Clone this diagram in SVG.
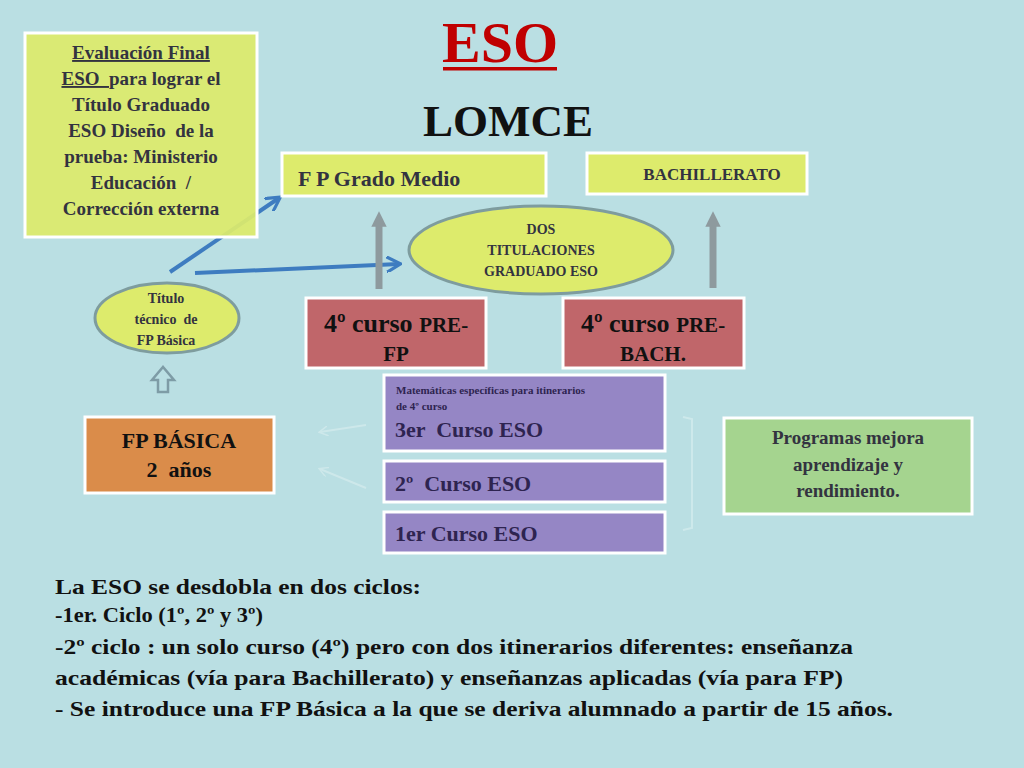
<svg xmlns="http://www.w3.org/2000/svg" width="1024" height="768" viewBox="0 0 1024 768" font-family="Liberation Serif">
<defs>
<style>
.box{stroke:#ffffff;stroke-width:3}
.y{fill:#DDEB6C}
.r{fill:#C0666A}
.p{fill:#9586C5}
.dk{fill:#333340}
.pt{fill:#2E2450}
.bk{fill:#111111}
.blue{stroke:#3E7CC0;stroke-width:4;fill:none}
.grey{stroke:#8E9A9E;stroke-width:7}
.faint{stroke:#D6ECEE;stroke-width:2;fill:none;opacity:0.7}
</style>
<marker id="ab" viewBox="0 0 10 10" refX="8" refY="5" markerWidth="4" markerHeight="4" orient="auto"><path d="M0,0 L9,5 L0,10" fill="none" stroke="#3E7CC0" stroke-width="2"/></marker>
<marker id="ag" viewBox="0 0 10 10" refX="5" refY="5" markerWidth="2.2" markerHeight="2.2" orient="auto"><path d="M0,0 L10,5 L0,10 z" fill="#8E9A9E"/></marker>
<marker id="af" viewBox="0 0 10 10" refX="8" refY="5" markerWidth="5" markerHeight="5" orient="auto"><path d="M0,0 L9,5 L0,10" fill="none" stroke="#D6ECEE" stroke-width="1.5"/></marker>
</defs>
<rect width="1024" height="768" fill="#BADFE3"/>

<g id="connectors">
<line class="blue" x1="170" y1="272" x2="279" y2="198" marker-end="url(#ab)"/>
<line class="blue" x1="195" y1="273" x2="399" y2="264" marker-end="url(#ab)"/>
<line class="grey" x1="379" y1="289" x2="379" y2="219" marker-end="url(#ag)"/>
<line class="grey" x1="713" y1="288" x2="713" y2="219" marker-end="url(#ag)"/>
<path d="M158,392 L158,380 L152,380 L163,367 L174,380 L168,380 L168,392 Z" fill="none" stroke="#7E9CA6" stroke-width="2.5"/>
<line class="faint" x1="366" y1="425" x2="320" y2="432" marker-end="url(#af)"/>
<line class="faint" x1="366" y1="488" x2="320" y2="469" marker-end="url(#af)"/>
<path class="faint" d="M683,417 L692,419 L692,528 L683,530"/>
</g>

<g id="title">
<text font-family="Liberation Serif" font-weight="bold" x="500" y="62" font-size="58" fill="#C00000" text-anchor="middle">ESO</text>
<rect x="443" y="67" width="114" height="3.5" fill="#C00000"/>
<text font-family="Liberation Serif" font-weight="bold" class="bk" x="508" y="136" font-size="45" text-anchor="middle">LOMCE</text>
</g>

<g id="evaluacion">
<rect class="box y" x="25" y="33" width="232" height="204" fill-opacity="0.93"/>
<text font-family="Liberation Serif" font-weight="bold" class="dk" font-size="19" text-anchor="middle" x="141" y="59" text-decoration="underline">Evaluación Final</text>
<text font-family="Liberation Serif" font-weight="bold" class="dk" font-size="19" text-anchor="middle" x="141" y="85"><tspan text-decoration="underline" xml:space="preserve">ESO  </tspan>para lograr el</text>
<text font-family="Liberation Serif" font-weight="bold" class="dk" font-size="19" text-anchor="middle" x="141" y="111">Título Graduado</text>
<text font-family="Liberation Serif" font-weight="bold" class="dk" font-size="19" text-anchor="middle" x="141" y="137" xml:space="preserve">ESO Diseño  de la</text>
<text font-family="Liberation Serif" font-weight="bold" class="dk" font-size="19" text-anchor="middle" x="141" y="163">prueba: Ministerio</text>
<text font-family="Liberation Serif" font-weight="bold" class="dk" font-size="19" text-anchor="middle" x="141" y="189" xml:space="preserve">Educación  /</text>
<text font-family="Liberation Serif" font-weight="bold" class="dk" font-size="19" text-anchor="middle" x="141" y="215">Corrección externa</text>
</g>

<g id="fpgradomedio">
<rect class="box y" x="282" y="153" width="264" height="43"/>
<text font-family="Liberation Serif" font-weight="bold" class="dk" x="298" y="186" font-size="22">F P Grado Medio</text>
</g>

<g id="bachillerato">
<rect class="box y" x="587" y="153" width="220" height="41"/>
<text font-family="Liberation Serif" font-weight="bold" class="dk" x="712" y="180" font-size="17" text-anchor="middle">BACHILLERATO</text>
</g>

<g id="dostitulaciones">
<ellipse cx="541" cy="250" rx="132" ry="44" fill="#DDEB6C" stroke="#7E9C9E" stroke-width="3"/>
<text font-family="Liberation Serif" font-weight="bold" class="dk" font-size="14" text-anchor="middle" x="541" y="234">DOS</text>
<text font-family="Liberation Serif" font-weight="bold" class="dk" font-size="14" text-anchor="middle" x="541" y="255">TITULACIONES</text>
<text font-family="Liberation Serif" font-weight="bold" class="dk" font-size="14" text-anchor="middle" x="541" y="276">GRADUADO ESO</text>
</g>

<g id="titulotecnico">
<ellipse cx="167" cy="318" rx="72" ry="35" fill="#DDEB6C" stroke="#7E9C9E" stroke-width="3"/>
<text font-family="Liberation Serif" font-weight="bold" class="dk" font-size="14" text-anchor="middle" x="166" y="303">Título</text>
<text font-family="Liberation Serif" font-weight="bold" class="dk" font-size="14" text-anchor="middle" x="166" y="324" xml:space="preserve">técnico  de</text>
<text font-family="Liberation Serif" font-weight="bold" class="dk" font-size="14" text-anchor="middle" x="166" y="345">FP Básica</text>
</g>

<g id="prefp">
<rect class="box r" x="306" y="298" width="180" height="70"/>
<text font-family="Liberation Serif" font-weight="bold" class="bk" x="396" y="332" font-size="26" text-anchor="middle">4º curso <tspan font-size="21">PRE-</tspan></text>
<text font-family="Liberation Serif" font-weight="bold" class="bk" x="396" y="361" font-size="21" text-anchor="middle">FP</text>
</g>

<g id="prebach">
<rect class="box r" x="563" y="298" width="181" height="70"/>
<text font-family="Liberation Serif" font-weight="bold" class="bk" x="653" y="332" font-size="26" text-anchor="middle">4º curso <tspan font-size="21">PRE-</tspan></text>
<text font-family="Liberation Serif" font-weight="bold" class="bk" x="653" y="361" font-size="21" text-anchor="middle">BACH.</text>
</g>

<g id="fpbasica">
<rect class="box" x="85" y="417" width="189" height="76" fill="#DA8C4A"/>
<text font-family="Liberation Serif" font-weight="bold" class="bk" x="179" y="448" font-size="22" text-anchor="middle">FP BÁSICA</text>
<text font-family="Liberation Serif" font-weight="bold" class="bk" x="179" y="477" font-size="22" text-anchor="middle" xml:space="preserve">2  años</text>
</g>

<g id="tercero">
<rect class="box p" x="384" y="375" width="281" height="76"/>
<text font-family="Liberation Serif" font-weight="bold" class="pt" x="396" y="394" font-size="11">Matemáticas específicas para itinerarios</text>
<text font-family="Liberation Serif" font-weight="bold" class="pt" x="396" y="410" font-size="11">de 4º curso</text>
<text font-family="Liberation Serif" font-weight="bold" class="pt" x="395" y="437" font-size="22" xml:space="preserve">3er  Curso ESO</text>
</g>

<g id="segundo">
<rect class="box p" x="384" y="461" width="281" height="41"/>
<text font-family="Liberation Serif" font-weight="bold" class="pt" x="395" y="491" font-size="22" xml:space="preserve">2º  Curso ESO</text>
</g>

<g id="primero">
<rect class="box p" x="384" y="512" width="281" height="41"/>
<text font-family="Liberation Serif" font-weight="bold" class="pt" x="395" y="541" font-size="22">1er Curso ESO</text>
</g>

<g id="programas">
<rect class="box" x="724" y="418" width="248" height="96" fill="#A5D48F"/>
<text font-family="Liberation Serif" font-weight="bold" class="dk" font-size="19" text-anchor="middle" x="848" y="444">Programas mejora</text>
<text font-family="Liberation Serif" font-weight="bold" class="dk" font-size="19" text-anchor="middle" x="848" y="471">aprendizaje y</text>
<text font-family="Liberation Serif" font-weight="bold" class="dk" font-size="19" text-anchor="middle" x="848" y="497">rendimiento.</text>
</g>

<g id="notes">
<text font-family="Liberation Serif" font-weight="bold" fill="#111" font-size="22" x="55" y="594" textLength="366" lengthAdjust="spacingAndGlyphs">La ESO se desdobla en dos ciclos:</text>
<text font-family="Liberation Serif" font-weight="bold" fill="#111" font-size="22" x="55" y="622" textLength="208" lengthAdjust="spacingAndGlyphs">-1er. Ciclo (1º, 2º y 3º)</text>
<text font-family="Liberation Serif" font-weight="bold" fill="#111" font-size="22" x="55" y="654" textLength="798" lengthAdjust="spacingAndGlyphs">-2º ciclo : un solo curso (4º) pero con dos itinerarios diferentes: enseñanza</text>
<text font-family="Liberation Serif" font-weight="bold" fill="#111" font-size="22" x="55" y="685" textLength="788" lengthAdjust="spacingAndGlyphs">académicas (vía para Bachillerato) y enseñanzas aplicadas (vía para FP)</text>
<text font-family="Liberation Serif" font-weight="bold" fill="#111" font-size="22" x="55" y="716" textLength="838" lengthAdjust="spacingAndGlyphs">- Se introduce una FP Básica a la que se deriva alumnado a partir de 15 años.</text>
</g>
</svg>
